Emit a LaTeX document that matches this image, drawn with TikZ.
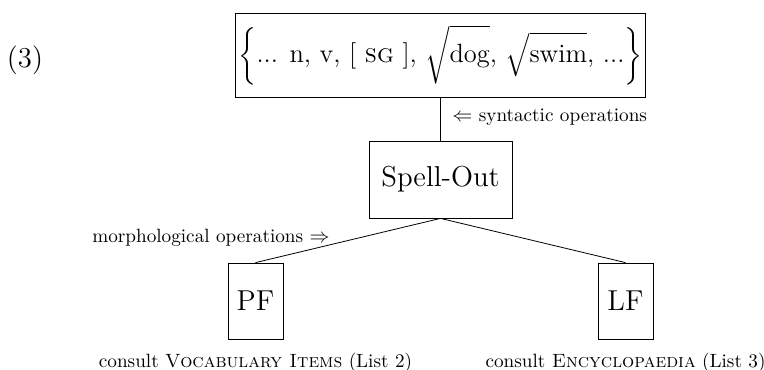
\documentclass[tikz,border=0pt]{standalone}
\usepackage{amsmath}
\usetikzlibrary{positioning}

\begin{document}
\begin{tikzpicture}[x=0.5pt, y=-0.5pt,
		box/.style={draw, inner sep=0pt, font=\fontsize{14.4}{17}\selectfont},
		small/.style={inner sep=0pt, font=\fontsize{9.6}{11.5}\selectfont}]

		\useasboundingbox (0,0) rectangle (764,369);

		% Example number
		\node [font=\fontsize{14.4}{17}\selectfont] (num) at (25,60) {(3)};

		% Lexical items
		\node [box, font=\fontsize{13.2}{16}\selectfont, minimum width=205pt, minimum height=42pt] (lex) at (440.5,55)
			{$\bigg\{\text{... n, v, [ \textsc{sg} ], }\sqrt{\vphantom{\Big|}\text{dog}}\text{, }\sqrt{\vphantom{\big|}\text{swim}}\text{, ...}\bigg\}$};

		% Spell-Out
		\node [box, minimum width=71.5pt, minimum height=38.5pt] (spell) at (440.5,179.5) {Spell-Out};
		\draw (lex) -- (spell);
		\node [small, anchor=west] (synt) at (452,117) {$\Leftarrow$ syntactic operations};

		% PF and LF
		\node [box, minimum width=27.5pt, minimum height=38pt] (pf) at (255.5,301) {PF};
		\node [box, minimum width=27.5pt, minimum height=38pt] (lf) at (625.5,301) {LF};
		\draw (spell.south) -- (pf.north);
		\draw (spell.south) -- (lf.north);
		\node [small, anchor=east] (morph) at (330,238) {morphological operations $\Rightarrow$};

		% Lists
		\node [small, below=6.5pt of pf] (vocab) {consult \textsc{Vocabulary Items} (List 2)};
		\node [small, below=6.5pt of lf] (encyc) {consult \textsc{Encyclopaedia} (List 3)};

	\end{tikzpicture}
\end{document}
